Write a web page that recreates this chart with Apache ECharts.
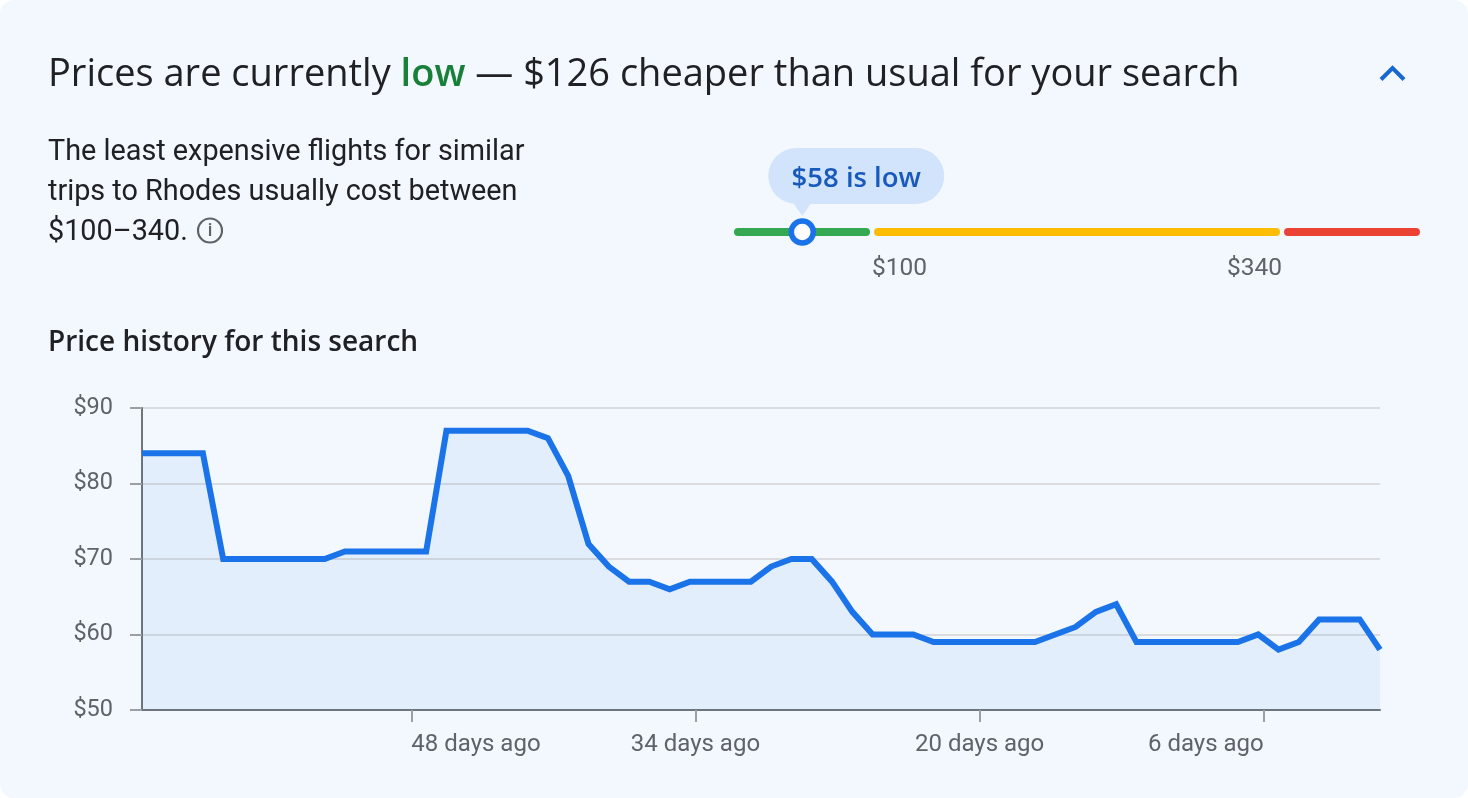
<!DOCTYPE html>
<html>
<head>
<meta charset="utf-8">
<title>Price history</title>
<script src="https://cdn.jsdelivr.net/npm/echarts@6/dist/echarts.min.js"></script>
<style>
html, body { margin: 0; padding: 0; background: #fff; }
#main { width: 1468px; height: 798px; background: #f3f8ff; border-radius: 14px; overflow: hidden; }
</style>
</head>
<body>
<div id="main"></div>
<script>
// price history, one value per day, oldest first
var priceValues = [84, 84, 84, 84, 70, 70, 70, 70, 70, 70, 71, 71, 71, 71, 71, 87, 87, 87, 87, 87,
    86, 81, 72, 69, 67, 67, 66, 67, 67, 67, 67, 69, 70, 70, 67, 63, 60, 60, 60, 59,
    59, 59, 59, 59, 59, 60, 61, 63, 64, 59, 59, 59, 59, 59, 59, 60, 58, 59, 62, 62, 62, 58];
var tickDaysAgo = [48, 34, 20, 6];
var latestDaysAgo = 0.27;
var priceTicks = { min: 50, max: 90, step: 10 };

// typical price range bar
var rangeMin = 19.2, rangeMax = 420.8;
var rangeLimits = [100, 340];
var currentPrice = 58;
var rangeColors = ['#34a853', '#fbbc04', '#ea4335'];

var sans = '"Open Sans", sans-serif';
var body = 'Roboto, sans-serif';

var priceData = priceValues.map(function (v, i) {
    return [i - (priceValues.length - 1) - latestDaysAgo, v];
});
var rangeData = [
    [rangeMin, rangeLimits[0], 0],
    [rangeLimits[0], rangeLimits[1], 1],
    [rangeLimits[1], rangeMax, 2]
];

function renderRange(params, api) {
    var lo = api.value(0), hi = api.value(1);
    var a = api.coord([lo, 0]), b = api.coord([hi, 0]);
    var x0 = a[0] + (lo === rangeMin ? 0 : 2);
    var x1 = b[0] - (hi === rangeMax ? 0 : 2);
    return {
        type: 'rect',
        shape: { x: x0, y: a[1] - 4, width: x1 - x0, height: 8, r: 4 },
        style: { fill: rangeColors[api.value(2)] }
    };
}

function renderBubble(params, api) {
    var p = api.coord([api.value(0), 0]);
    return {
        type: 'group',
        x: p[0],
        y: p[1],
        children: [
            {
                type: 'rect',
                shape: { x: -32, y: -84, width: 176, height: 56, r: 28 },
                style: { fill: '#d2e3fc' }
            },
            {
                type: 'polygon',
                shape: { points: [[-7, -29], [11, -29], [2, -16]] },
                style: { fill: '#d2e3fc' }
            },
            {
                type: 'text',
                style: {
                    x: 56, y: -53, text: '$' + api.value(0) + ' is low',
                    align: 'center', verticalAlign: 'middle',
                    font: '600 27.5px ' + sans, fill: '#185abc'
                }
            }
        ]
    };
}

var myChart = echarts.init(document.getElementById('main'));
myChart.setOption({
    animation: false,
    title: [
        {
            text: 'Prices are currently {low|low} — $126 cheaper than usual for your search',
            left: 48, top: 56, padding: 0,
            textStyle: {
                fontFamily: sans, fontSize: 38, fontWeight: 400, color: '#202124',
                rich: { low: { fontFamily: sans, fontSize: 38, fontWeight: 600, color: '#188038' } }
            }
        },
        {
            text: 'The least expensive flights for similar\ntrips to Rhodes usually cost between\n$100–340.',
            left: 48, top: 133, padding: 0,
            textStyle: { fontFamily: body, fontSize: 28.8, fontWeight: 400, color: '#202124', lineHeight: 40 }
        },
        {
            text: 'Price history for this search',
            left: 48, top: 329, padding: 0,
            textStyle: { fontFamily: sans, fontSize: 28, fontWeight: 600, color: '#202124' }
        }
    ],
    graphic: [
        {
            type: 'polyline',
            shape: { points: [[1381, 79.5], [1392.5, 68], [1404, 79.5]] },
            style: { stroke: '#1967d2', lineWidth: 4, fill: null }
        },
        {
            type: 'circle',
            shape: { cx: 210, cy: 230.5, r: 12 },
            style: { stroke: '#5f6368', lineWidth: 2.2, fill: null }
        },
        {
            type: 'text',
            style: { x: 210, y: 231, text: 'i', align: 'center', verticalAlign: 'middle', font: '500 18px ' + body, fill: '#5f6368' }
        }
    ],
    grid: [
        { left: 142, top: 408, width: 1238, height: 302 },
        { left: 734, top: 222, width: 686, height: 20 }
    ],
    xAxis: [
        {
            type: 'value',
            gridIndex: 0,
            min: -(priceValues.length - 1) - latestDaysAgo,
            max: -latestDaysAgo,
            splitLine: { show: false },
            axisLine: { show: true, onZero: false, lineStyle: { color: '#70757a', width: 2 } },
            axisTick: {
                show: true, length: 12, lineStyle: { color: '#9aa0a6', width: 2 },
                customValues: tickDaysAgo.map(function (d) { return -d; })
            },
            axisLabel: {
                customValues: tickDaysAgo.map(function (d) { return -d; }),
                formatter: function (v) { return (-v) + ' days ago'; },
                margin: 23,
                align: 'center', alignMinLabel: 'left', alignMaxLabel: 'right',
                fontFamily: body, fontSize: 24, color: '#5f6368'
            }
        },
        {
            type: 'value',
            gridIndex: 1,
            min: rangeMin,
            max: rangeMax,
            splitLine: { show: false },
            axisLine: { show: false },
            axisTick: { show: false },
            axisLabel: {
                customValues: rangeLimits,
                formatter: function (v) { return '$' + v; },
                margin: 14.5,
                alignMinLabel: 'left', alignMaxLabel: 'right',
                fontFamily: body, fontSize: 24.5, color: '#5f6368'
            }
        }
    ],
    yAxis: [
        {
            type: 'value',
            gridIndex: 0,
            min: priceTicks.min,
            max: priceTicks.max,
            interval: priceTicks.step,
            splitLine: { lineStyle: { color: '#dadce0', width: 2 } },
            axisLine: { show: true, lineStyle: { color: '#70757a', width: 2 } },
            axisTick: { show: true, length: 12, lineStyle: { color: '#9aa0a6', width: 2 } },
            axisLabel: {
                formatter: function (v) { return '$' + v; },
                margin: 29,
                fontFamily: body, fontSize: 23.5, color: '#5f6368'
            }
        },
        { type: 'value', gridIndex: 1, min: -1, max: 1, show: false }
    ],
    series: [
        {
            type: 'line',
            xAxisIndex: 0,
            yAxisIndex: 0,
            data: priceData,
            symbol: 'none',
            lineStyle: { color: '#1a73e8', width: 6, join: 'miter' },
            areaStyle: { color: 'rgba(26,115,232,0.1)', origin: 'start' }
        },
        {
            type: 'custom',
            xAxisIndex: 1,
            yAxisIndex: 1,
            renderItem: renderRange,
            encode: { x: [0, 1] },
            data: rangeData,
            clip: false
        },
        {
            type: 'custom',
            xAxisIndex: 1,
            yAxisIndex: 1,
            renderItem: renderBubble,
            encode: { x: 0 },
            data: [[currentPrice]],
            clip: false,
            z: 3
        },
        {
            type: 'scatter',
            xAxisIndex: 1,
            yAxisIndex: 1,
            data: [[currentPrice, 0]],
            symbolSize: 22,
            symbolOffset: [2, 0],
            itemStyle: { color: '#fff', borderColor: '#1a73e8', borderWidth: 5.5, opacity: 1 },
            clip: false,
            z: 4
        }
    ]
});
</script>
</body>
</html>
